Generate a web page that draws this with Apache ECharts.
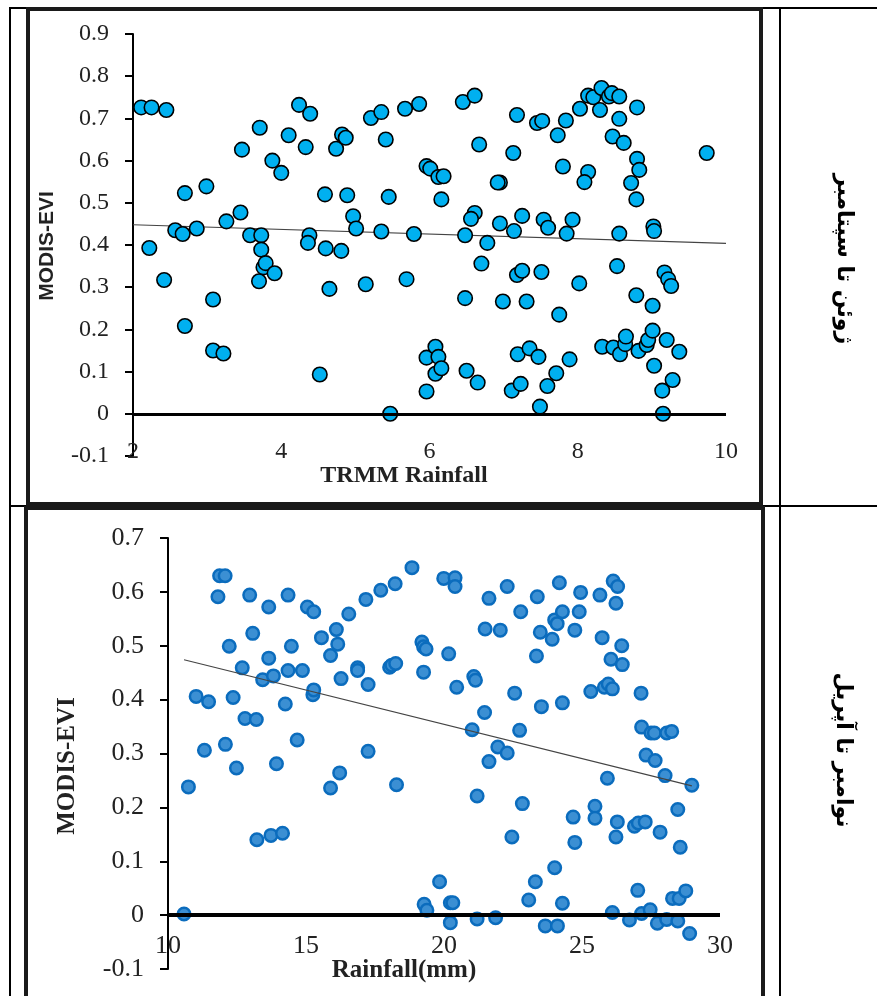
<!DOCTYPE html>
<html>
<head>
<meta charset="utf-8">
<script src="https://cdn.jsdelivr.net/npm/echarts@6/dist/echarts.min.js"></script>
<style>
html,body{margin:0;padding:0;background:#fff;}
#c{width:877px;height:996px;}
</style>
</head>
<body>
<div id="c"></div>
<script>
// ---- Top chart (June–September): TRMM Rainfall vs MODIS-EVI ----
const topX = [2.11,2.25,2.45,2.22,2.42,2.70,2.57,2.67,2.86,2.70,2.99,3.08,3.08,3.22,3.26,3.47,3.45,3.58,3.71,3.73,3.73,3.76,3.79,3.70,3.91,3.88,4.00,4.10,4.24,4.39,4.33,4.38,4.36,4.59,4.60,4.65,4.52,4.74,4.82,4.87,4.89,4.97,5.01,4.81,5.14,5.21,5.35,5.41,5.45,5.35,5.47,5.67,5.86,5.69,5.79,5.96,6.01,6.12,6.16,5.96,6.08,6.08,5.96,6.12,
6.45,6.61,7.18,7.45,7.52,7.84,7.73,8.03,8.14,8.21,8.32,8.42,8.46,8.56,8.30,8.56,8.80,6.67,7.13,8.47,8.62,9.74,6.19,6.95,6.92,7.80,8.14,8.09,8.80,8.83,8.72,8.79,6.61,6.56,6.48,6.78,6.95,7.14,7.25,7.54,7.60,7.85,7.93,8.56,9.02,9.03,6.70,7.18,7.25,7.51,8.02,8.53,6.48,6.99,7.31,7.75,8.79,9.01,9.17,9.22,9.26,6.16,6.50,6.65,7.19,7.35,7.47,7.11,7.23,7.59,7.71,7.89,7.49,8.33,8.48,8.57,8.64,8.65,8.82,8.93,8.95,9.01,9.20,9.37,9.03,9.28,9.14,9.15];
const topY = [0.726,0.726,0.720,0.393,0.317,0.523,0.435,0.426,0.439,0.208,0.539,0.271,0.150,0.143,0.456,0.626,0.477,0.423,0.678,0.423,0.389,0.347,0.357,0.314,0.333,0.600,0.571,0.660,0.732,0.711,0.632,0.423,0.405,0.520,0.392,0.296,0.093,0.628,0.662,0.654,0.518,0.468,0.439,0.386,0.307,0.701,0.715,0.650,0.514,0.432,0.000,0.723,0.734,0.319,0.426,0.587,0.581,0.561,0.508,0.133,0.159,0.095,0.053,0.135,
0.739,0.754,0.708,0.689,0.694,0.695,0.660,0.723,0.754,0.750,0.772,0.752,0.760,0.752,0.720,0.699,0.726,0.638,0.618,0.657,0.642,0.618,0.563,0.548,0.548,0.586,0.573,0.549,0.604,0.578,0.547,0.508,0.476,0.462,0.423,0.405,0.451,0.433,0.469,0.460,0.441,0.427,0.460,0.427,0.444,0.433,0.356,0.329,0.339,0.336,0.309,0.350,0.274,0.266,0.266,0.235,0.281,0.256,0.335,0.319,0.303,0.108,0.102,0.074,0.141,0.155,0.135,0.055,0.071,0.066,0.096,0.129,0.017,0.159,0.157,0.141,0.165,0.183,0.149,0.163,0.175,0.197,0.175,0.147,0.114,0.080,0.055,0.000];
const topTrendX = [2, 10];
const topTrendY = [0.448, 0.404];
const topXTicks = {min: 2, max: 10, interval: 2};
const topYTicks = {min: -0.1, max: 0.9, interval: 0.1};

// ---- Bottom chart (November–April): Rainfall(mm) vs MODIS-EVI ----
const botX = [10.58,10.74,11.02,11.47,11.32,11.81,11.87,12.07,12.08,12.22,12.36,12.48,12.69,12.79,12.96,13.07,13.20,13.22,13.65,13.65,13.43,13.82,13.93,13.73,14.15,14.25,14.35,14.35,14.47,14.68,14.87,15.05,15.28,15.25,15.28,15.56,15.89,15.89,16.10,16.15,16.22,16.27,16.55,16.87,16.87,17.17,17.25,17.25,17.71,18.03,18.11,18.25,18.23,18.28,18.84,19.20,19.26,19.35,19.26,19.28,19.38,19.84,19.99,20.17,20.23,20.23,
20.40,20.40,20.46,20.32,21.08,21.14,21.02,21.20,21.20,21.47,21.49,21.63,21.63,21.87,21.95,22.04,22.29,22.29,22.46,22.56,22.74,22.78,22.84,23.07,23.31,23.35,23.38,23.49,23.53,23.67,23.92,24.01,24.10,24.01,24.11,24.18,24.29,24.29,24.29,24.68,24.74,24.74,24.90,24.95,25.32,25.47,25.47,25.65,25.73,25.81,25.95,26.10,25.92,26.05,26.13,26.29,26.23,26.44,26.46,26.28,26.23,26.10,26.72,26.90,27.04,27.29,27.02,27.16,27.47,27.14,27.16,27.32,27.50,27.62,27.65,27.73,27.83,28.07,28.25,28.01,28.07,28.28,28.52,28.76,28.47,28.56,28.47,28.90,28.98];
const botY = [0.002,0.238,0.406,0.396,0.306,0.591,0.630,0.630,0.317,0.499,0.404,0.273,0.459,0.365,0.594,0.523,0.363,0.140,0.572,0.477,0.437,0.444,0.281,0.148,0.152,0.392,0.594,0.454,0.499,0.325,0.454,0.572,0.563,0.409,0.418,0.515,0.482,0.236,0.530,0.503,0.264,0.439,0.559,0.459,0.454,0.586,0.428,0.304,0.603,0.460,0.464,0.467,0.615,0.242,0.645,0.507,0.498,0.494,0.451,0.020,0.009,0.062,0.625,0.485,0.023,-0.014,
0.626,0.610,0.423,0.023,0.443,0.436,0.344,0.221,-0.007,0.376,0.531,0.588,0.285,-0.005,0.312,0.529,0.610,0.301,0.145,0.412,0.343,0.563,0.207,0.028,0.062,0.481,0.591,0.525,0.387,-0.020,0.512,0.548,0.541,0.088,-0.020,0.617,0.563,0.394,0.022,0.182,0.529,0.135,0.563,0.599,0.415,0.202,0.180,0.594,0.515,0.423,0.429,0.420,0.254,0.475,0.620,0.610,0.579,0.500,0.465,0.173,0.145,0.005,-0.009,0.165,0.171,0.173,0.046,0.003,0.010,0.412,0.349,0.297,0.338,0.338,0.287,-0.015,0.154,0.338,0.341,0.259,-0.008,0.031,0.031,0.045,0.196,0.126,-0.011,-0.034,0.241];
const botTrendX = [10.58, 28.98];
const botTrendY = [0.474, 0.240];
const botXTicks = {min: 10, max: 30, interval: 5};
const botYTicks = {min: -0.1, max: 0.7, interval: 0.1};

// ---- Texts ----
const rowLabels = ['ژوئن تا سپتامبر', 'نوامبر تا آپریل'];
const topXName = 'TRMM Rainfall';
const botXName = 'Rainfall(mm)';
const yName = 'MODIS-EVI';

const zip = (xs, ys) => xs.map((x, i) => [x, ys[i]]);
const yFmt = v => Math.abs(v) < 1e-9 ? '0' : (Math.round(v * 10) / 10).toFixed(1);
const serif = 'Liberation Serif, Times New Roman, serif';

const chart = echarts.init(document.getElementById('c'), null, {renderer: 'canvas'});

function yAxisCfg(gi, t, fs) {
  return {
    gridIndex: gi, type: 'value', min: t.min, max: t.max, interval: t.interval,
    axisLine: {show: true, lineStyle: {color: '#000', width: 2}},
    axisTick: {show: true, inside: false, length: 8, lineStyle: {color: '#000', width: 2}},
    splitLine: {show: false},
    axisLabel: {formatter: yFmt, color: '#222', fontFamily: serif, fontSize: fs, margin: 24}
  };
}
function xAxisCfg(gi, t, fs, margin) {
  return {
    gridIndex: gi, type: 'value', min: t.min, max: t.max, interval: t.interval,
    axisLine: {show: false}, axisTick: {show: false}, splitLine: {show: false},
    axisLabel: {color: '#222', fontFamily: serif, fontSize: fs, margin: margin, showMinLabel: true, showMaxLabel: true}
  };
}
const zeroLine = w => ({
  silent: true, symbol: 'none', label: {show: false},
  lineStyle: {color: '#000', width: w, type: 'solid'},
  data: [{yAxis: 0}]
});

const option = {
  animation: false,
  backgroundColor: '#fff',
  grid: [
    {left: 133, top: 34, width: 593, height: 422},
    {left: 168, top: 538, width: 552, height: 431}
  ],
  xAxis: [xAxisCfg(0, topXTicks, 24, -16), xAxisCfg(1, botXTicks, 26, -36)],
  yAxis: [yAxisCfg(0, topYTicks, 24), yAxisCfg(1, botYTicks, 26)],
  series: [
    {type: 'line', xAxisIndex: 0, yAxisIndex: 0, data: zip(topTrendX, topTrendY), showSymbol: false, symbol: 'none',
     lineStyle: {color: '#444', width: 1.2}, z: 2, markLine: zeroLine(3)},
    {type: 'scatter', xAxisIndex: 0, yAxisIndex: 0, data: zip(topX, topY), symbolSize: 14.5,
     itemStyle: {color: '#00B0F0', borderColor: '#000', borderWidth: 1.6, opacity: 1}, z: 3},
    {type: 'line', xAxisIndex: 1, yAxisIndex: 1, data: zip(botTrendX, botTrendY), showSymbol: false, symbol: 'none',
     lineStyle: {color: '#444', width: 1.2}, z: 4, markLine: zeroLine(4)},
    {type: 'scatter', xAxisIndex: 1, yAxisIndex: 1, data: zip(botX, botY), symbolSize: 12.5,
     itemStyle: {color: '#3b8fd3', borderColor: '#0b6cbd', borderWidth: 2.5, opacity: 1}, z: 3}
  ],
  graphic: [
    // table lines
    {type: 'line', shape: {x1: 10, y1: 8, x2: 877, y2: 8}, style: {stroke: '#000', lineWidth: 2}, silent: true},
    {type: 'line', shape: {x1: 10, y1: 7, x2: 10, y2: 996}, style: {stroke: '#000', lineWidth: 2}, silent: true},
    {type: 'line', shape: {x1: 780, y1: 7, x2: 780, y2: 996}, style: {stroke: '#000', lineWidth: 2}, silent: true},
    {type: 'line', shape: {x1: 10, y1: 506, x2: 877, y2: 506}, style: {stroke: '#000', lineWidth: 2}, silent: true},
    // chart frames
    {type: 'rect', shape: {x: 28, y: 9, width: 733, height: 495}, style: {fill: 'none', stroke: '#1a1a1a', lineWidth: 4}, silent: true, z: 10},
    {type: 'rect', shape: {x: 26, y: 508, width: 737, height: 520}, style: {fill: 'none', stroke: '#1a1a1a', lineWidth: 4}, silent: true, z: 10},
    // axis names
    {type: 'text', x: 404, y: 476, style: {text: topXName, font: 'bold 24px ' + serif, fill: '#222', align: 'center', verticalAlign: 'middle'}, z: 10},
    {type: 'text', x: 404, y: 971, style: {text: botXName, font: 'bold 25px ' + serif, fill: '#222', align: 'center', verticalAlign: 'middle'}, z: 10},
    {type: 'text', x: 47, y: 246, rotation: Math.PI / 2, style: {text: yName, font: 'bold 21px Liberation Sans, Arial, sans-serif', fill: '#222', align: 'center', verticalAlign: 'middle'}, z: 10},
    {type: 'text', x: 68, y: 766, rotation: Math.PI / 2, style: {text: yName, font: 'bold 25px ' + serif, fill: '#222', align: 'center', verticalAlign: 'middle'}, z: 10},
    // row labels (Persian, rotated clockwise)
    {type: 'text', x: 844, y: 259, rotation: -Math.PI / 2, style: {text: rowLabels[0], font: 'bold 22px DejaVu Sans, Noto Sans, sans-serif', fill: '#000', align: 'center', verticalAlign: 'middle'}, z: 10},
    {type: 'text', x: 843, y: 750, rotation: -Math.PI / 2, style: {text: rowLabels[1], font: 'bold 22px DejaVu Sans, Noto Sans, sans-serif', fill: '#000', align: 'center', verticalAlign: 'middle'}, z: 10}
  ]
};
chart.setOption(option);
</script>
</body>
</html>
